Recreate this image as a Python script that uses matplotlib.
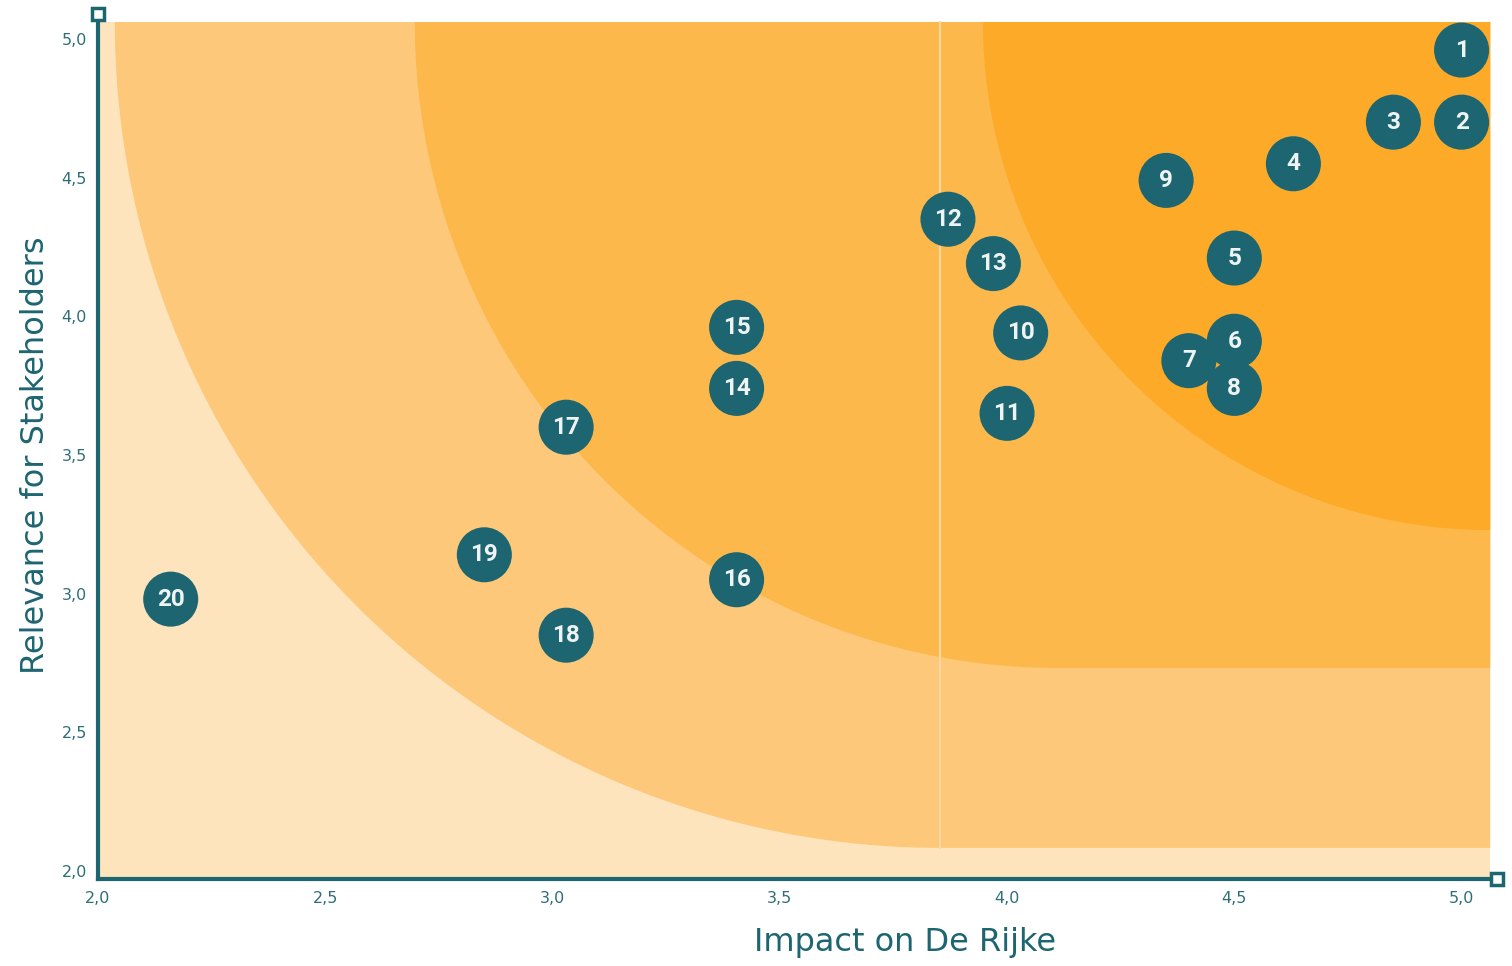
import numpy as np
import matplotlib.pyplot as plt
from matplotlib.patches import Polygon
from matplotlib.ticker import FuncFormatter

# datos
ids = ["1", "2", "3", "4", "5", "6", "7", "8", "9", "10",
       "11", "12", "13", "14", "15", "16", "17", "18", "19", "20"]
impact = [5.00, 5.00, 4.85, 4.63, 4.50, 4.50, 4.40, 4.50, 4.35, 4.03,
          4.00, 3.87, 3.97, 3.405, 3.405, 3.405, 3.03, 3.03, 2.85, 2.16]
relevance = [4.96, 4.70, 4.70, 4.55, 4.21, 3.91, 3.84, 3.74, 4.49, 3.94,
             3.65, 4.35, 4.19, 3.74, 3.96, 3.05, 3.60, 2.85, 3.14, 2.98]

x_ticks = [2.0, 2.5, 3.0, 3.5, 4.0, 4.5, 5.0]
y_ticks = [2.0, 2.5, 3.0, 3.5, 4.0, 4.5, 5.0]

# zonas de fondo: (izquierda, abajo, centro x de la esquina redondeada, color)
zone_left = [2.037, 2.697, 3.947]
zone_bottom = [2.083, 2.732, 3.229]
zone_cx = [3.853, 4.110, 5.063]
zone_colors = ["#fdc87a", "#fdb84b", "#fcaa28"]

teal = "#1d6570"
bg_light = "#fde4bd"
x_min, x_max = 2.0, 5.078
y_min, y_max = 1.971, 5.09
area_right, area_top = 5.063, 5.061

plt.rcParams['font.family'] = ['DejaVu Sans']

fig = plt.figure(figsize=(15.12, 9.66), dpi=100)
ax = fig.add_axes([0.0648, 0.0901, 0.9253, 0.8954])
ax.set_xlim(x_min, x_max)
ax.set_ylim(y_min, y_max)

# fondo claro
ax.add_patch(Polygon([(x_min, y_min), (area_right, y_min), (area_right, area_top), (x_min, area_top)],
                     closed=True, facecolor=bg_light, edgecolor="none", zorder=0))

# zonas con esquina inferior izquierda redondeada
t = np.linspace(np.pi, 1.5 * np.pi, 120)
for left, bottom, cx, col in zip(zone_left, zone_bottom, zone_cx, zone_colors):
    rx = cx - left
    ry = area_top - bottom
    arc = np.column_stack([cx + rx * np.cos(t), area_top + ry * np.sin(t)])
    pts = list(map(tuple, arc)) + [(area_right, bottom), (area_right, area_top)]
    ax.add_patch(Polygon(pts, closed=True, facecolor=col, edgecolor="none", zorder=1))

# línea clara de unión
ax.plot([zone_cx[0], zone_cx[0]], [zone_bottom[0], area_top], color="#fdd89c", lw=1.5, zorder=2)

# puntos
ax.scatter(impact, relevance, s=1570, color=teal, edgecolors="none", zorder=5)
for lab, xv, yv in zip(ids, impact, relevance):
    ax.text(xv, yv, lab, ha="center", va="center", color="#eef4f4", fontsize=17.5,
            fontweight="bold", family=["Roboto", "DejaVu Sans"], zorder=6)

# ejes
for side in ["top", "right"]:
    ax.spines[side].set_visible(False)
for side in ["left", "bottom"]:
    ax.spines[side].set_color(teal)
    ax.spines[side].set_linewidth(3)
ax.plot([0], [1], marker="s", ms=9, mfc="white", mec=teal, mew=2.5,
        transform=ax.transAxes, clip_on=False, zorder=10)
ax.plot([1], [0], marker="s", ms=9, mfc="white", mec=teal, mew=2.5,
        transform=ax.transAxes, clip_on=False, zorder=10)

fmt = FuncFormatter(lambda v, p: f"{v:.1f}".replace(".", ","))
ax.set_xticks(x_ticks)
ax.set_yticks(y_ticks)
ax.xaxis.set_major_formatter(fmt)
ax.yaxis.set_major_formatter(fmt)
ax.tick_params(length=0, labelsize=11.5, labelcolor="#2f6e78")
ax.tick_params(axis="x", pad=9)
ax.tick_params(axis="y", pad=8)

ax.set_xlabel("Impact on De Rijke", fontsize=23, color=teal, va="center")
ax.set_ylabel("Relevance for Stakeholders", fontsize=23, color=teal, va="center")
ax.xaxis.set_label_coords(0.577, -0.074)
ax.yaxis.set_label_coords(-0.045, 0.49)

fig.savefig("out.png", dpi=100)
